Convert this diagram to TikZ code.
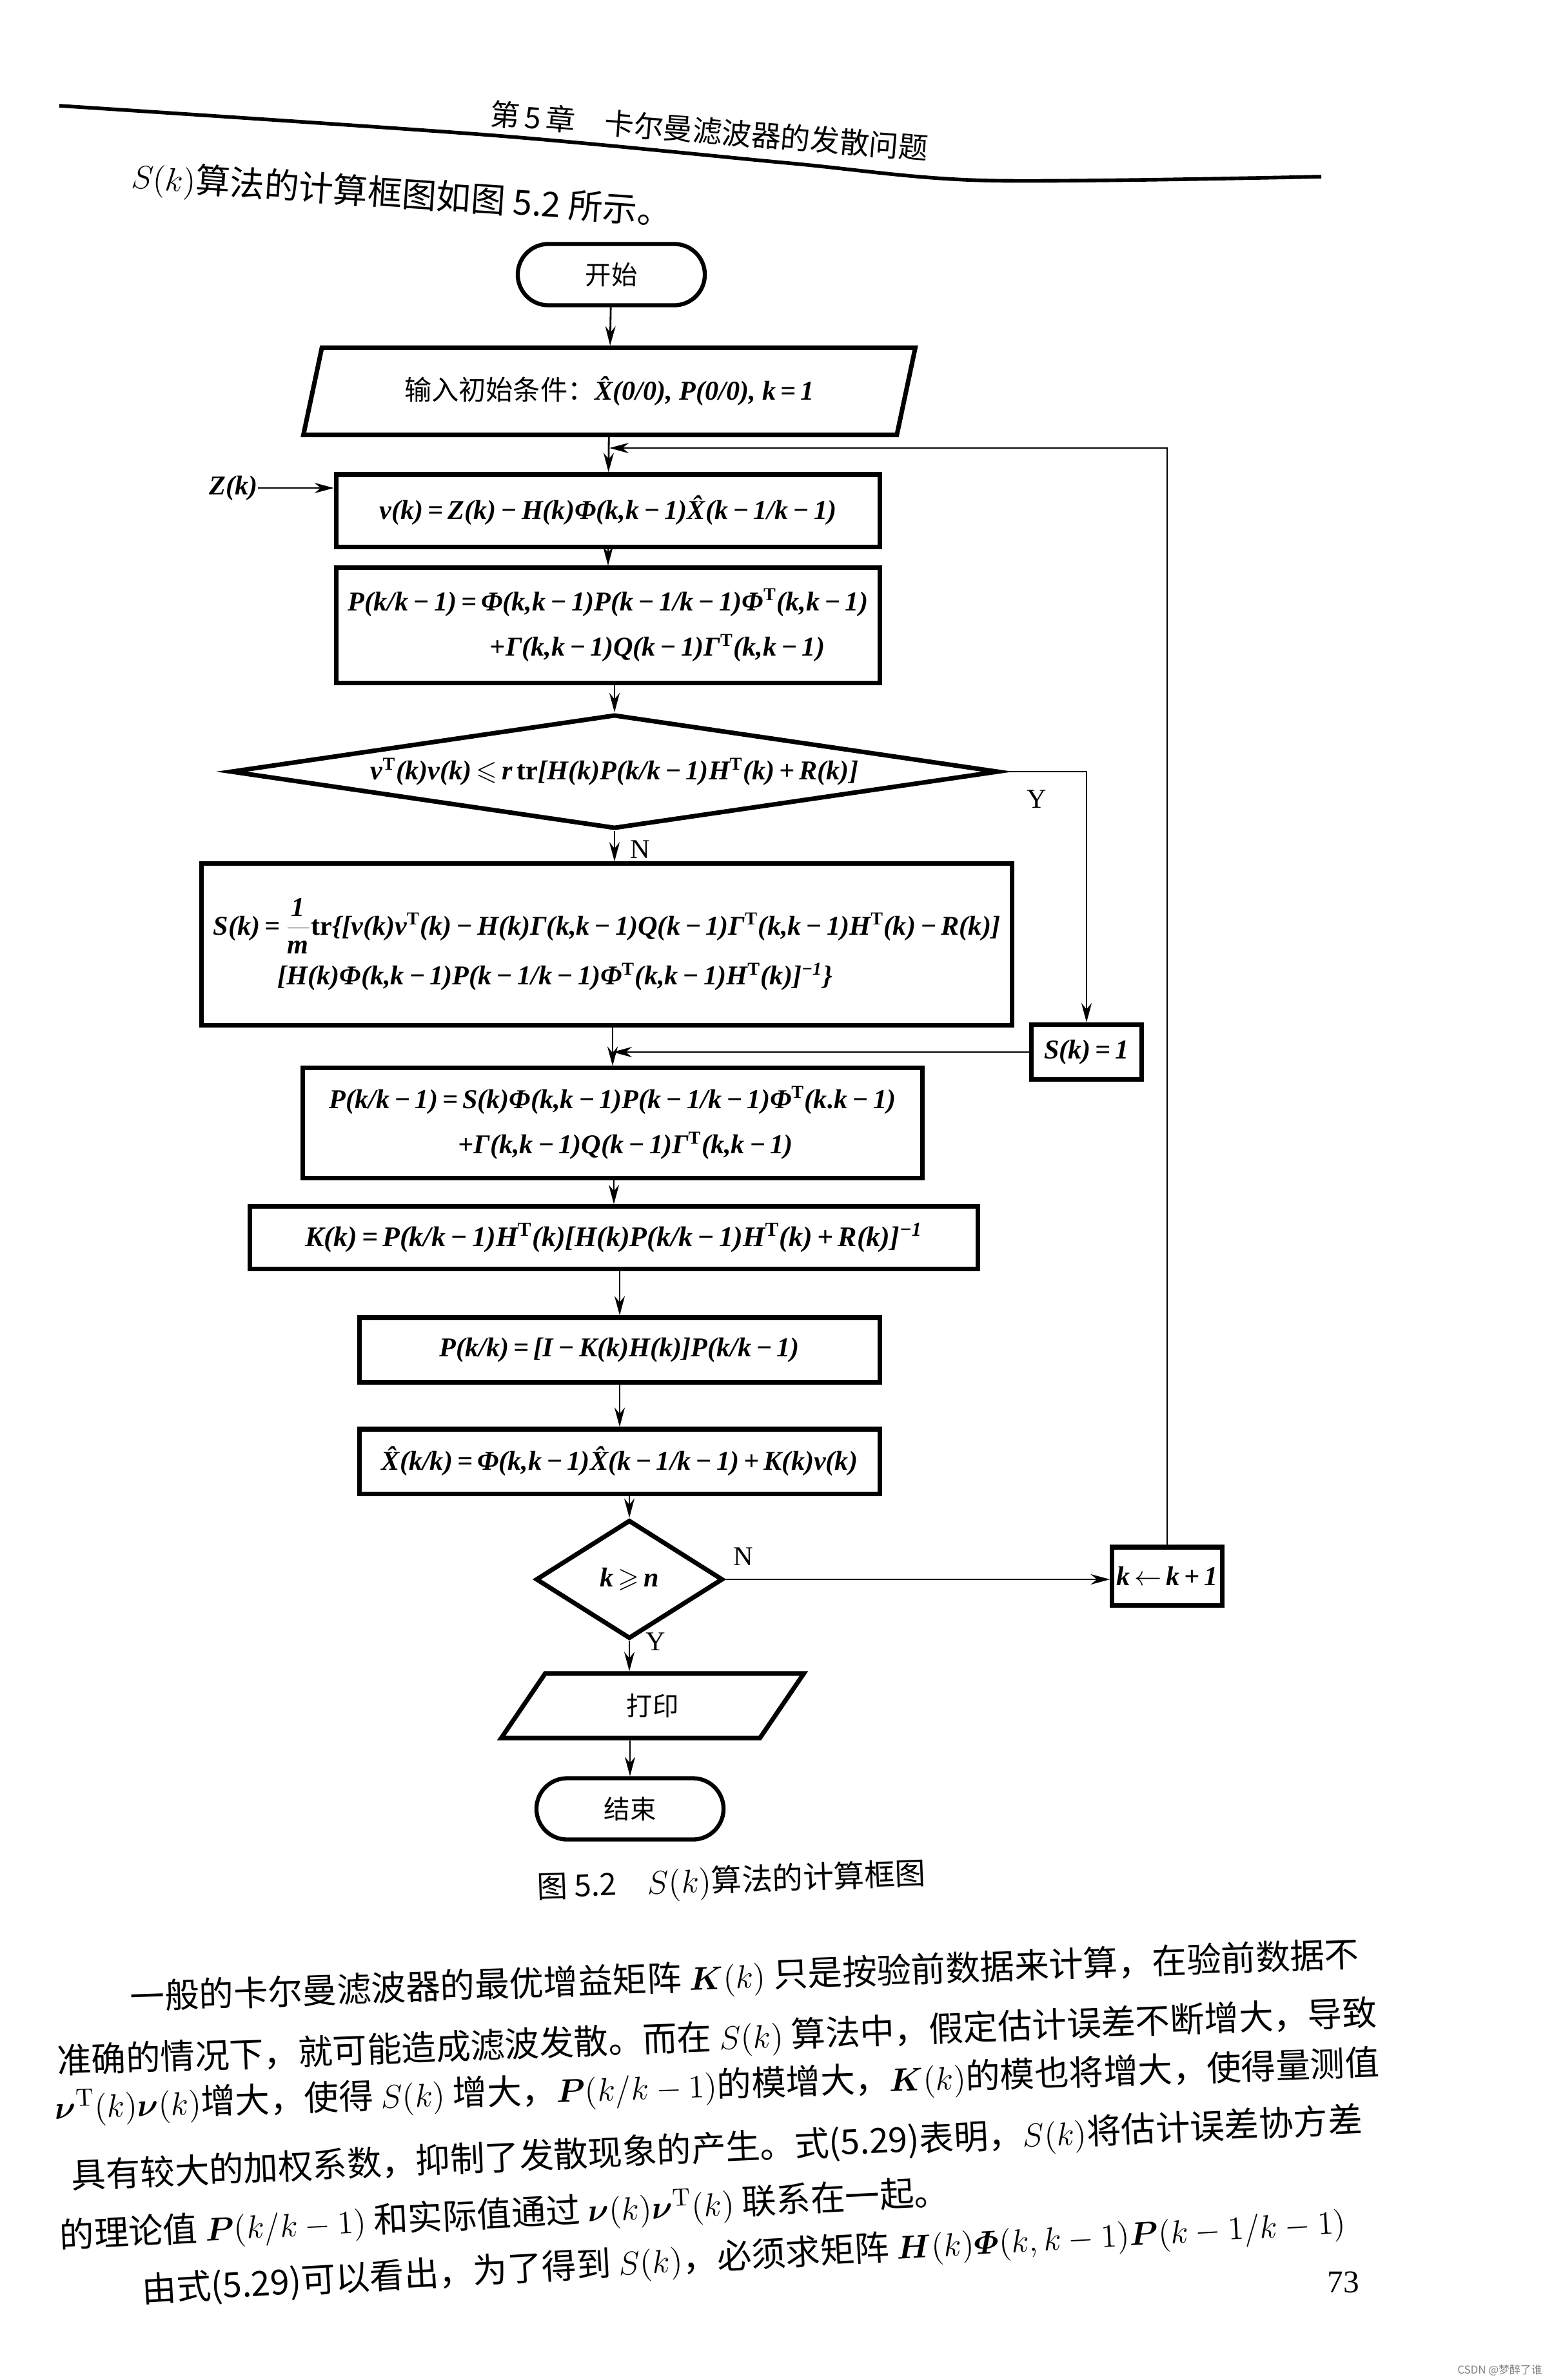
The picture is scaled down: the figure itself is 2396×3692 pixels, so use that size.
\documentclass[tikz,border=0pt]{standalone}
\usepackage{amsmath,amssymb}
\usepackage{bm}
\usepackage[no-math]{fontspec}
\setmainfont{Liberation Serif}
\newfontfamily\cjk{Noto Sans CJK SC}
\usetikzlibrary{arrows.meta,positioning,shapes.geometric,shapes.misc}
\newcommand{\tp}{\mathrm{T}}
% pieces of the bold italic formulas of the chart
\newcommand{\Tp}{\textsuperscript{\upshape T}}
\newcommand{\inv}{\textsuperscript{−1}}
\newcommand{\mn}{\,−\,}
\newcommand{\eq}{\,=\,}
\newcommand{\pl}{\,+\,}

\begin{document}
\begin{tikzpicture}[
  x=0.01cm, y=-0.01cm,
  fml/.style={font=\fontsize{12}{20}\selectfont\bfseries\itshape},
  term/.style={draw, rounded rectangle, line width=1.8pt, minimum width=2.9cm, minimum height=0.95cm, inner sep=0pt, font=\fontsize{11.5}{14}\selectfont\cjk},
  io/.style={draw, trapezium, trapezium left angle=66, trapezium right angle=114, trapezium stretches=true, line width=2pt, inner sep=0pt, align=center, fml},
  proc/.style={draw, rectangle, line width=2pt, inner sep=0pt, align=center, fml},
  cond/.style={draw, diamond, aspect=6.7, line width=2pt, inner sep=0pt, fml},
  lbl/.style={font=\fontsize{12}{14}\selectfont, inner sep=0pt},
  flow/.style={-{Stealth[length=3mm,width=1.6mm]}, line width=0.8pt},
  body/.style={font=\fontsize{15.2}{18}\selectfont\cjk, inner sep=0pt}
]
\useasboundingbox[fill=white] (0,0) rectangle (2396,3692);

% page head
\node[font=\fontsize{13}{15}\selectfont\cjk, rotate=-4.5] (head) at (1100,203) {第\,5\,章\quad 卡尔曼滤波器的发散问题};
\draw[line width=1.6pt] plot[smooth] coordinates {(92,164) (765,210) (1223,253) (1529,280) (2049,274)};
\node[body, rotate=-3.9] (intro) at (623,304) {$S(k)$算法的计算框图如图 5.2 所示。};

% flow chart
\node[term] (start) at (948,426) {开始};
\node[io, minimum width=9.5cm, minimum height=1.35cm] (init) at (945,607) {{\mdseries\upshape\cjk 输入初始条件：}\^X(0/0), P(0/0), k\,=\,1};
\node[proc, minimum width=8.43cm, minimum height=1.12cm] (vbox) at (943,792) {v(k)\eq Z(k)\mn H(k)Φ(k,k\mn 1)\^X(k\mn 1/k\mn 1)};
\node[fml, inner sep=0pt] (zin) at (362,757) {Z(k)};
\node[proc, minimum width=8.43cm, minimum height=1.78cm, align=left] (pone) at (943,970) {P(k/k\mn 1)\eq Φ(k,k\mn 1)P(k\mn 1/k\mn 1)Φ\Tp(k,k\mn 1)\\\hspace*{2.2cm}+Γ(k,k\mn 1)Q(k\mn 1)Γ\Tp(k,k\mn 1)};
\node[cond, minimum width=11.9cm, minimum height=1.77cm] (cond) at (953,1197) {v\Tp(k)v(k)\,$\leqslant$\,r\,{\upshape tr}[H(k)P(k/k\mn 1)H\Tp(k)\pl R(k)]};
\node[proc, minimum width=12.57cm, minimum height=2.5cm, align=left] (sbox) at (941,1465) {S(k)\eq$\dfrac{\text{1}}{\text{m}}${\upshape tr}\{[v(k)v\Tp(k)\mn H(k)Γ(k,k\mn 1)Q(k\mn 1)Γ\Tp(k,k\mn 1)H\Tp(k)\mn R(k)]\\[2pt]\hspace*{1.0cm}[H(k)Φ(k,k\mn 1)P(k\mn 1/k\mn 1)Φ\Tp(k,k\mn 1)H\Tp(k)]\inv\}};
\node[proc, minimum width=1.7cm, minimum height=0.85cm] (sone) at (1685,1632) {S(k)\eq 1};
\node[proc, minimum width=9.6cm, minimum height=1.7cm, align=left] (ptwo) at (950,1742) {P(k/k\mn 1)\eq S(k)Φ(k,k\mn 1)P(k\mn 1/k\mn 1)Φ\Tp(k.k\mn 1)\\\hspace*{2.0cm}+Γ(k,k\mn 1)Q(k\mn 1)Γ\Tp(k,k\mn 1)};
\node[proc, minimum width=11.28cm, minimum height=0.97cm, font=\fontsize{12.5}{20}\selectfont\bfseries\itshape] (kbox) at (952,1920) {K(k)\eq P(k/k\mn 1)H\Tp(k)[H(k)P(k/k\mn 1)H\Tp(k)\pl R(k)]\inv};
\node[proc, minimum width=8.07cm, minimum height=1cm] (ppbox) at (961,2094) {P(k/k)\eq [I\mn K(k)H(k)]P(k/k\mn 1)};
\node[proc, minimum width=8.07cm, minimum height=1cm] (xbox) at (961,2267) {\^X(k/k)\eq Φ(k,k\mn 1)\^X(k\mn 1/k\mn 1)\pl K(k)v(k)};
\node[cond, aspect=1.58, minimum width=2.9cm, minimum height=1.84cm] (check) at (976,2450) {k\,$\geqslant$\,n};
\node[proc, minimum width=1.7cm, minimum height=0.9cm] (inc) at (1810,2445) {k\,$\leftarrow$\,k\pl 1};
\node[io, minimum width=4.7cm, minimum height=1cm, font=\fontsize{11.5}{14}\selectfont\cjk] (print) at (1012,2646) {打印};
\node[term] (stop) at (977,2806) {结束};
\coordinate (ret) at (945,695);

\node[lbl] (ncond) at (993,1318) {N};
\node[lbl] (ycond) at (1608,1240) {Y};
\node[lbl] (ncheck) at (1153,2415) {N};
\node[lbl] (ycheck) at (1017,2547) {Y};

\draw[flow] (start) -- (init);
\draw[flow] (init) -- (vbox);
\draw[flow] (zin) -- (zin -| vbox.west);
\draw[flow] (vbox) -- (pone);
\draw[flow] (pone.south -| cond.north) -- (cond.north);
\draw[flow] (cond.south) -- (cond.south |- sbox.north);
\draw[flow] (cond.east) -| (sone.north);
\draw[flow] (sbox.south -| ptwo.north) -- (ptwo.north);
\draw[flow] (sone.west) -- (sone.west -| ptwo.north);
\draw[flow] (ptwo.south -| kbox.north) -- (kbox.north);
\draw[flow] (kbox.south -| ppbox.north) -- (ppbox.north);
\draw[flow] (ppbox) -- (xbox);
\draw[flow] (xbox.south -| check.north) -- (check.north);
\draw[flow] (check.east) -- (check.east -| inc.west);
\draw[flow] (check.south) -- (check.south |- print.north);
\draw[flow] (print.south -| stop.north) -- (stop.north);
\draw[flow] (inc.north) |- (ret);

% caption and text
\node[font=\fontsize{13.5}{16}\selectfont\cjk, rotate=2] (cap) at (1134,2920) {图 5.2\quad $S(k)$算法的计算框图};
\node[body, rotate=2.0] (lone) at (1155,3068) {一般的卡尔曼滤波器的最优增益矩阵 $\bm{K}(k)$ 只是按验前数据来计算，在验前数据不};
\node[body, rotate=2.1] (ltwo) at (1112,3163) {准确的情况下，就可能造成滤波发散。而在 $S(k)$ 算法中，假定估计误差不断增大，导致};
\node[body, rotate=1.9] (lthree) at (1112,3237) {$\bm{\nu}^{\tp}(k)\bm{\nu}(k)$增大，使得 $S(k)$ 增大，$\bm{P}(k/k-1)$的模增大，$\bm{K}(k)$的模也将增大，使得量测值};
\node[body, rotate=2.5] (lfour) at (1112,3335) {具有较大的加权系数，抑制了发散现象的产生。式(5.29)表明，$S(k)$将估计误差协方差};
\node[body, rotate=2.8] (lfive) at (782,3437) {的理论值 $\bm{P}(k/k-1)$ 和实际值通过 $\bm{\nu}(k)\bm{\nu}^{\tp}(k)$ 联系在一起。};
\node[body, rotate=3.3] (lsix) at (1154,3502) {由式(5.29)可以看出，为了得到 $S(k)$，必须求矩阵 $\bm{H}(k)\bm{\varPhi}(k,k-1)\bm{P}(k-1/k-1)$};
\node[font=\fontsize{14}{16}\selectfont] (pnum) at (2083,3540) {73};
\node[font=\fontsize{4.8}{6}\selectfont\cjk, text=gray] (mark) at (2326,3677) {CSDN @梦醉了谁};
\end{tikzpicture}
\end{document}
